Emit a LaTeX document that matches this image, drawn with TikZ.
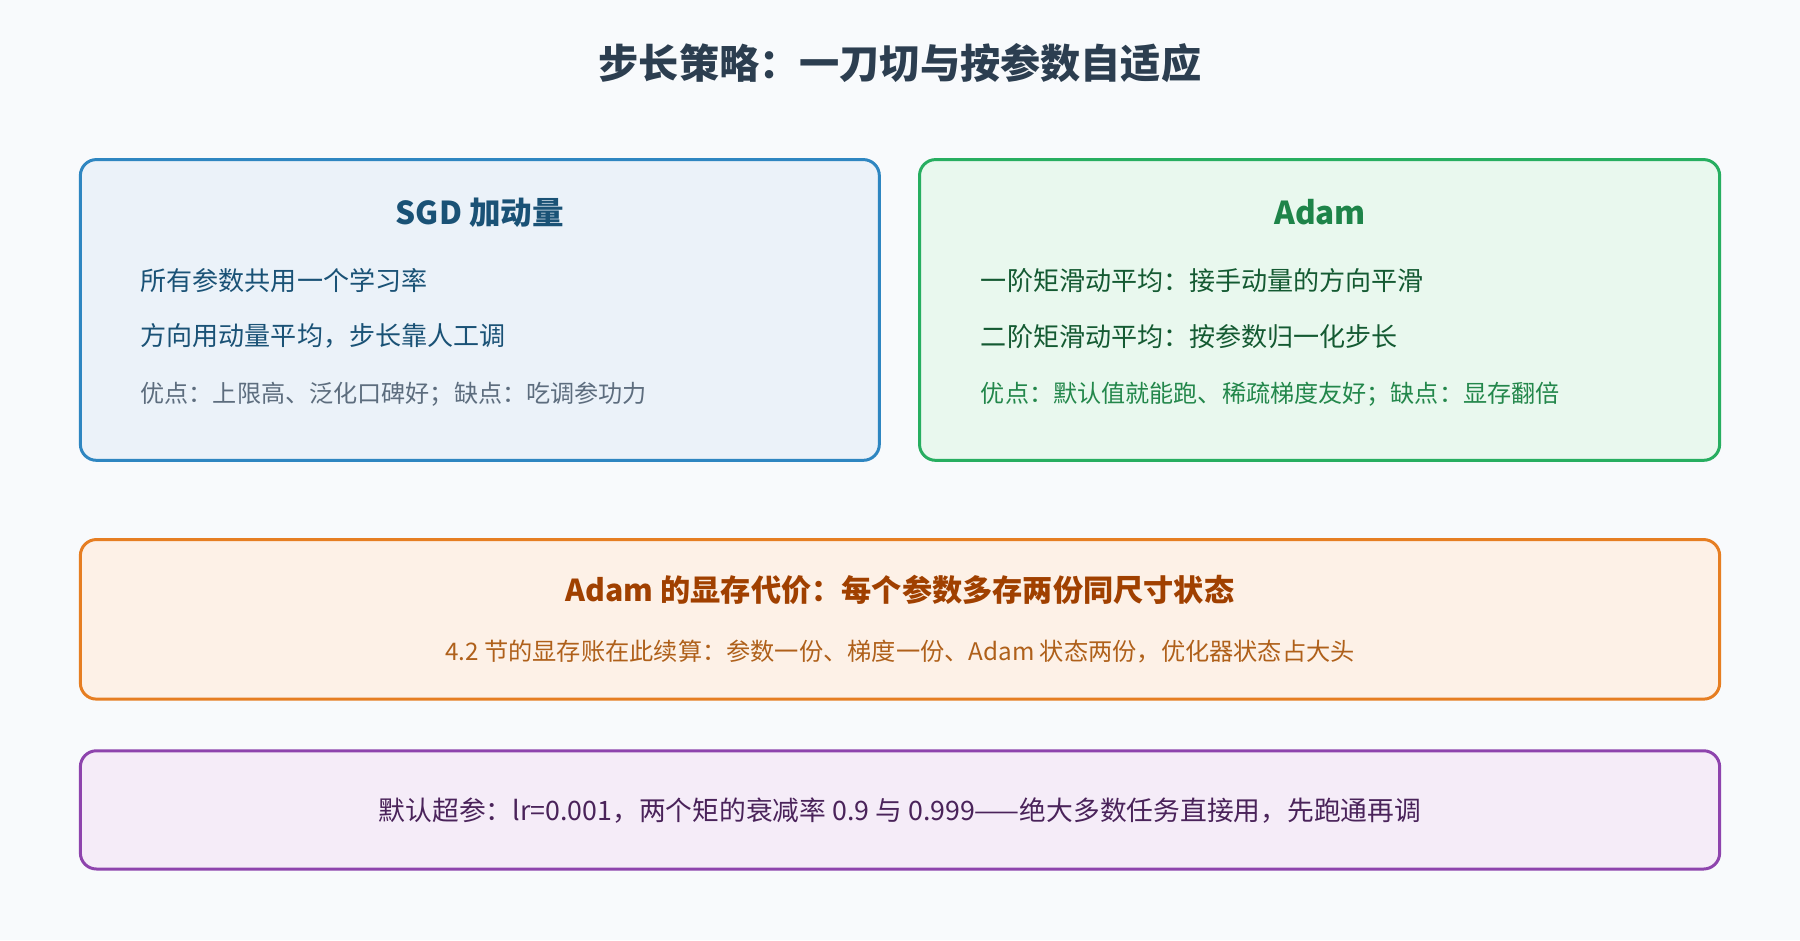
\documentclass[tikz,border=0pt]{standalone}
\usepackage{fontspec}
\setmainfont{Noto Sans CJK SC}
\begin{document}
\begin{tikzpicture}[x=1pt,y=-1pt,
  box/.style={rounded corners=14pt,line width=2.6pt},
  ttl/.style={font=\fontsize{27.5}{30}\selectfont\bfseries},
  bd/.style={anchor=west,font=\fontsize{22.7}{26}\selectfont},
  sm/.style={anchor=west,font=\fontsize{21}{24}\selectfont}]
\definecolor{bg}{HTML}{F8FAFC}
\definecolor{bb}{HTML}{2E86C1}\definecolor{bf}{HTML}{EBF2F9}
\definecolor{gb}{HTML}{27AE60}\definecolor{gf}{HTML}{E9F8EE}
\definecolor{ob}{HTML}{E67E22}\definecolor{of}{HTML}{FDF1E7}
\definecolor{pb}{HTML}{8E44AD}\definecolor{pf}{HTML}{F5ECF8}
\fill[bg] (0,0) rectangle (1568,819);
\useasboundingbox (0,0) rectangle (1568,819);
\node[font=\fontsize{35}{38}\selectfont\bfseries,text={rgb,255:red,44;green,62;blue,80}] (title) at (784,55) {步长策略：一刀切与按参数自适应};
\draw[box,draw=bb,fill=bf] (70,139) rectangle (766,401);
\draw[box,draw=gb,fill=gf] (801,139) rectangle (1498,401);
\draw[box,draw=ob,fill=of] (70,470) rectangle (1498,609);
\draw[box,draw=pb,fill=pf] (70,654) rectangle (1498,757);
\node[ttl,text={rgb,255:red,26;green,82;blue,118}] (s0) at (418,185) {SGD 加动量};
\node[bd,text={rgb,255:red,26;green,82;blue,118}] (s1) at (119,244) {所有参数共用一个学习率};
\node[bd,text={rgb,255:red,26;green,82;blue,118}] (s2) at (119,293) {方向用动量平均，步长靠人工调};
\node[sm,text={rgb,255:red,93;green,109;blue,126}] (s3) at (119,343) {优点：上限高、泛化口碑好；缺点：吃调参功力};
\node[ttl,text={rgb,255:red,30;green,132;blue,73}] (a0) at (1150,185) {Adam};
\node[bd,text={rgb,255:red,20;green,90;blue,50}] (a1) at (851,244) {一阶矩滑动平均：接手动量的方向平滑};
\node[bd,text={rgb,255:red,20;green,90;blue,50}] (a2) at (851,293) {二阶矩滑动平均：按参数归一化步长};
\node[sm,text={rgb,255:red,35;green,135;blue,75}] (a3) at (851,343) {优点：默认值就能跑、稀疏梯度友好；缺点：显存翻倍};
\node[font=\fontsize{26.3}{28}\selectfont\bfseries,text={rgb,255:red,160;green,64;blue,0}] (o0) at (784,514) {Adam 的显存代价：每个参数多存两份同尺寸状态};
\node[font=\fontsize{21.1}{24}\selectfont,text={rgb,255:red,175;green,96;blue,26}] (o1) at (784,568) {4.2 节的显存账在此续算：参数一份、梯度一份、Adam 状态两份，优化器状态占大头};
\node[font=\fontsize{23.3}{26}\selectfont,text={rgb,255:red,74;green,35;blue,90}] (p0) at (784,706) {默认超参：lr=0.001，两个矩的衰减率 0.9 与 0.999——绝大多数任务直接用，先跑通再调};
\end{tikzpicture}
\end{document}
